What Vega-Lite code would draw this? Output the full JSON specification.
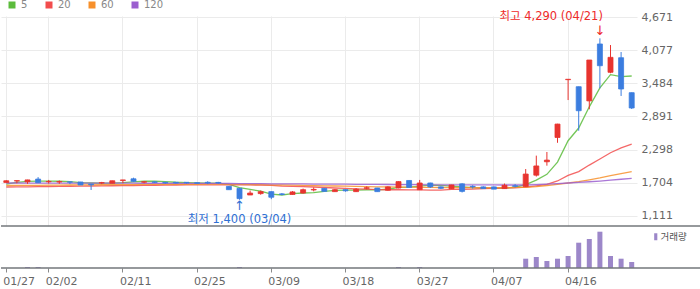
{
  "$schema": "https://vega.github.io/schema/vega-lite/v6.json",
  "padding": 0,
  "background": "#ffffff",
  "bounds": "flush",
  "spacing": 0,
  "config": {
    "view": {"stroke": null},
    "font": "DejaVu Sans",
    "axis": {"labelFont": "DejaVu Sans", "labelFontSize": 11, "labelColor": "#666666"}
  },
  "datasets": {
    "px": [
      {"d":"01/27","o":1710,"h":1748,"l":1705,"c":1740,"v":5000,"ma5":1680,"ma20":1628,"ma60":1655,"ma120":1700},
      {"d":"01/28","o":1735,"h":1745,"l":1695,"c":1742,"v":5000,"ma5":1710,"ma20":1630,"ma60":1656,"ma120":1700},
      {"d":"01/29","o":1720,"h":1758,"l":1685,"c":1755,"v":100000,"ma5":1728,"ma20":1632,"ma60":1658,"ma120":1699},
      {"d":"01/30","o":1770,"h":1805,"l":1705,"c":1705,"v":100000,"ma5":1735,"ma20":1635,"ma60":1659,"ma120":1699},
      {"d":"02/02","o":1722,"h":1755,"l":1690,"c":1728,"v":5000,"ma5":1734,"ma20":1637,"ma60":1661,"ma120":1699},
      {"d":"02/03","o":1718,"h":1745,"l":1685,"c":1725,"v":5000,"ma5":1731,"ma20":1639,"ma60":1662,"ma120":1698},
      {"d":"02/04","o":1720,"h":1722,"l":1680,"c":1715,"v":5000,"ma5":1726,"ma20":1642,"ma60":1664,"ma120":1698},
      {"d":"02/05","o":1718,"h":1720,"l":1665,"c":1665,"v":5000,"ma5":1708,"ma20":1644,"ma60":1666,"ma120":1698},
      {"d":"02/06","o":1680,"h":1682,"l":1575,"c":1668,"v":5000,"ma5":1700,"ma20":1646,"ma60":1667,"ma120":1697},
      {"d":"02/09","o":1700,"h":1720,"l":1680,"c":1706,"v":5000,"ma5":1696,"ma20":1648,"ma60":1669,"ma120":1697},
      {"d":"02/10","o":1695,"h":1742,"l":1695,"c":1740,"v":5000,"ma5":1699,"ma20":1651,"ma60":1670,"ma120":1697},
      {"d":"02/11","o":1745,"h":1755,"l":1695,"c":1755,"v":5000,"ma5":1707,"ma20":1653,"ma60":1671,"ma120":1696},
      {"d":"02/12","o":1775,"h":1795,"l":1720,"c":1730,"v":5000,"ma5":1720,"ma20":1655,"ma60":1672,"ma120":1696},
      {"d":"02/13","o":1715,"h":1730,"l":1695,"c":1722,"v":5000,"ma5":1731,"ma20":1657,"ma60":1674,"ma120":1695},
      {"d":"02/19","o":1720,"h":1725,"l":1700,"c":1712,"v":5000,"ma5":1732,"ma20":1660,"ma60":1675,"ma120":1695},
      {"d":"02/20","o":1712,"h":1714,"l":1688,"c":1700,"v":5000,"ma5":1724,"ma20":1662,"ma60":1676,"ma120":1694},
      {"d":"02/23","o":1712,"h":1715,"l":1690,"c":1700,"v":5000,"ma5":1713,"ma20":1664,"ma60":1676,"ma120":1694},
      {"d":"02/24","o":1712,"h":1715,"l":1690,"c":1702,"v":5000,"ma5":1707,"ma20":1665,"ma60":1677,"ma120":1693},
      {"d":"02/25","o":1705,"h":1706,"l":1685,"c":1695,"v":5000,"ma5":1702,"ma20":1666,"ma60":1677,"ma120":1693},
      {"d":"02/26","o":1712,"h":1730,"l":1680,"c":1700,"v":5000,"ma5":1699,"ma20":1667,"ma60":1678,"ma120":1692},
      {"d":"02/27","o":1710,"h":1720,"l":1690,"c":1700,"v":5000,"ma5":1699,"ma20":1668,"ma60":1678,"ma120":1692},
      {"d":"03/03","o":1640,"h":1645,"l":1580,"c":1580,"v":5000,"ma5":1675,"ma20":1668,"ma60":1676,"ma120":1691},
      {"d":"03/04","o":1605,"h":1610,"l":1400,"c":1420,"v":100000,"ma5":1619,"ma20":1667,"ma60":1674,"ma120":1690},
      {"d":"03/05","o":1485,"h":1565,"l":1485,"c":1520,"v":5000,"ma5":1584,"ma20":1666,"ma60":1672,"ma120":1689},
      {"d":"03/06","o":1510,"h":1565,"l":1490,"c":1545,"v":5000,"ma5":1553,"ma20":1662,"ma60":1670,"ma120":1688},
      {"d":"03/09","o":1545,"h":1550,"l":1410,"c":1445,"v":5000,"ma5":1502,"ma20":1656,"ma60":1668,"ma120":1686},
      {"d":"03/10","o":1505,"h":1520,"l":1480,"c":1495,"v":5000,"ma5":1485,"ma20":1645,"ma60":1664,"ma120":1685},
      {"d":"03/11","o":1495,"h":1555,"l":1490,"c":1540,"v":5000,"ma5":1509,"ma20":1639,"ma60":1661,"ma120":1684},
      {"d":"03/12","o":1520,"h":1600,"l":1510,"c":1580,"v":5000,"ma5":1521,"ma20":1634,"ma60":1657,"ma120":1683},
      {"d":"03/13","o":1575,"h":1620,"l":1550,"c":1585,"v":5000,"ma5":1529,"ma20":1628,"ma60":1654,"ma120":1681},
      {"d":"03/16","o":1605,"h":1607,"l":1550,"c":1550,"v":5000,"ma5":1550,"ma20":1619,"ma60":1650,"ma120":1680},
      {"d":"03/17","o":1545,"h":1590,"l":1545,"c":1580,"v":5000,"ma5":1567,"ma20":1610,"ma60":1646,"ma120":1679},
      {"d":"03/18","o":1580,"h":1585,"l":1545,"c":1560,"v":5000,"ma5":1571,"ma20":1602,"ma60":1643,"ma120":1678},
      {"d":"03/19","o":1545,"h":1610,"l":1540,"c":1590,"v":5000,"ma5":1573,"ma20":1595,"ma60":1639,"ma120":1677},
      {"d":"03/20","o":1605,"h":1640,"l":1585,"c":1615,"v":5000,"ma5":1579,"ma20":1590,"ma60":1636,"ma120":1676},
      {"d":"03/23","o":1610,"h":1612,"l":1545,"c":1545,"v":5000,"ma5":1578,"ma20":1582,"ma60":1632,"ma120":1674},
      {"d":"03/24","o":1570,"h":1640,"l":1565,"c":1630,"v":5000,"ma5":1588,"ma20":1579,"ma60":1630,"ma120":1673},
      {"d":"03/25","o":1610,"h":1730,"l":1605,"c":1725,"v":100000,"ma5":1621,"ma20":1580,"ma60":1627,"ma120":1672},
      {"d":"03/26","o":1745,"h":1747,"l":1620,"c":1620,"v":5000,"ma5":1627,"ma20":1576,"ma60":1625,"ma120":1671},
      {"d":"03/27","o":1580,"h":1755,"l":1575,"c":1700,"v":100000,"ma5":1644,"ma20":1576,"ma60":1622,"ma120":1670},
      {"d":"03/30","o":1700,"h":1705,"l":1610,"c":1630,"v":5000,"ma5":1661,"ma20":1573,"ma60":1620,"ma120":1668},
      {"d":"03/31","o":1630,"h":1640,"l":1590,"c":1605,"v":5000,"ma5":1656,"ma20":1574,"ma60":1619,"ma120":1667},
      {"d":"04/01","o":1595,"h":1667,"l":1595,"c":1665,"v":5000,"ma5":1644,"ma20":1586,"ma60":1618,"ma120":1667},
      {"d":"04/02","o":1685,"h":1695,"l":1530,"c":1550,"v":5000,"ma5":1630,"ma20":1588,"ma60":1617,"ma120":1666},
      {"d":"04/03","o":1640,"h":1660,"l":1600,"c":1630,"v":5000,"ma5":1616,"ma20":1592,"ma60":1616,"ma120":1666},
      {"d":"04/06","o":1630,"h":1640,"l":1600,"c":1600,"v":5000,"ma5":1610,"ma20":1600,"ma60":1615,"ma120":1665},
      {"d":"04/07","o":1630,"h":1635,"l":1590,"c":1590,"v":5000,"ma5":1607,"ma20":1605,"ma60":1617,"ma120":1665},
      {"d":"04/08","o":1600,"h":1690,"l":1600,"c":1660,"v":5000,"ma5":1606,"ma20":1611,"ma60":1618,"ma120":1664},
      {"d":"04/09","o":1650,"h":1680,"l":1620,"c":1640,"v":5000,"ma5":1624,"ma20":1614,"ma60":1620,"ma120":1664},
      {"d":"04/10","o":1635,"h":1950,"l":1630,"c":1860,"v":930000,"ma5":1670,"ma20":1627,"ma60":1622,"ma120":1664},
      {"d":"04/13","o":1840,"h":2190,"l":1815,"c":2005,"v":1100000,"ma5":1751,"ma20":1650,"ma60":1635,"ma120":1670},
      {"d":"04/14","o":2080,"h":2255,"l":2010,"c":2110,"v":700000,"ma5":1855,"ma20":1677,"ma60":1655,"ma120":1678},
      {"d":"04/15","o":2515,"h":2760,"l":2420,"c":2755,"v":930000,"ma5":2074,"ma20":1736,"ma60":1677,"ma120":1690},
      {"d":"04/16","o":3550,"h":3560,"l":3185,"c":3557,"v":1200000,"ma5":2457,"ma20":1835,"ma60":1700,"ma120":1700},
      {"d":"04/17","o":3424,"h":3426,"l":2636,"c":2994,"v":2530000,"ma5":2684,"ma20":1904,"ma60":1725,"ma120":1710},
      {"d":"04/20","o":3170,"h":3902,"l":3020,"c":3902,"v":2900000,"ma5":3064,"ma20":2021,"ma60":1757,"ma120":1722},
      {"d":"04/21","o":4189,"h":4290,"l":3395,"c":3800,"v":3630000,"ma5":3402,"ma20":2130,"ma60":1790,"ma120":1735},
      {"d":"04/22","o":3682,"h":4170,"l":3665,"c":3950,"v":1200000,"ma5":3641,"ma20":2241,"ma60":1830,"ma120":1750},
      {"d":"04/23","o":3943,"h":4045,"l":3258,"c":3383,"v":930000,"ma5":3606,"ma20":2329,"ma60":1866,"ma120":1767},
      {"d":"04/24","o":3317,"h":3320,"l":3025,"c":3043,"v":600000,"ma5":3616,"ma20":2396,"ma60":1902,"ma120":1784}
    ]
  },
  "resolve": {"scale": {"color": "independent"}, "legend": {"color": "independent"}},
  "vconcat": [
    {
      "width": 636,
      "height": 210,
      "data": {"name": "px"},
      "encoding": {
        "x": {
          "field": "d", "type": "ordinal", "sort": null,
          "scale": {"type": "band", "paddingInner": 0, "paddingOuter": 0},
          "axis": {
            "values": ["01/27","02/02","02/11","02/25","03/09","03/18","03/27","04/07","04/16"],
            "labels": false, "ticks": false, "domain": false, "grid": true,
            "gridColor": "#ebebeb", "bandPosition": 0.5, "title": null
          }
        }
      },
      "layer": [
        {
          "transform": [{"fold": ["ma5","ma20","ma60","ma120"], "as": ["key","val"]}],
          "mark": {"type": "line"},
          "encoding": {
            "y": {
              "field": "val", "type": "quantitative",
              "scale": {"domain": [930, 4690], "nice": false, "zero": false},
              "axis": {
                "orient": "right", "title": null,
                "values": [1111,1704,2298,2891,3484,4077,4671], "tickCount": 20, "format": ",.0f",
                "ticks": false, "tickSize": 0, "domain": false, "labelPadding": 4,
                "labelOverlap": false, "labelFlush": false,
                "grid": true, "gridColor": "#ebebeb"
              }
            },
            "color": {
              "field": "key", "type": "nominal",
              "scale": {"domain": ["ma5","ma20","ma60","ma120"], "range": ["#5cbc3c","#f24d4d","#f7902b","#9b5fcf"]},
              "legend": {
                "orient": "none", "legendX": 6, "legendY": -16, "direction": "horizontal",
                "title": null, "symbolType": "square", "symbolSize": 4, "symbolStrokeWidth": 5,
                "symbolOpacity": 1, "labelFont": "DejaVu Sans", "labelFontSize": 10,
                "labelColor": "#888888", "labelOffset": 4, "columnPadding": 10, "padding": 0,
                "labelExpr": "replace(datum.label, 'ma', '')"
              }
            },
            "strokeWidth": {"value": 1.3},
            "opacity": {"value": 0.85}
          }
        },
        {
          "mark": {"type": "rule", "strokeWidth": 1},
          "encoding": {
            "y": {"field": "l", "type": "quantitative"},
            "y2": {"field": "h"},
            "color": {"condition": {"test": "datum.c >= datum.o", "value": "#e8342f"}, "value": "#3b7ddf"}
          }
        },
        {
          "mark": {"type": "bar", "size": 5, "strokeWidth": 0.8},
          "encoding": {
            "y": {"field": "o", "type": "quantitative"},
            "y2": {"field": "c"},
            "fill": {"condition": {"test": "datum.c >= datum.o", "value": "#e8342f"}, "value": "#3b7ddf"},
            "stroke": {"condition": {"test": "datum.c >= datum.o", "value": "#e8342f"}, "value": "#3b7ddf"}
          }
        },
        {
          "transform": [{"filter": "datum.d == '04/21'"}],
          "mark": {"type": "text", "align": "right", "baseline": "middle", "dx": 3, "dy": -21, "fontSize": 11.5, "font": "DejaVu Sans, Noto Sans CJK KR", "color": "#ee2a2a"},
          "encoding": {"y": {"field": "h", "type": "quantitative"}, "text": {"value": "최고 4,290 (04/21)"}}
        },
        {
          "transform": [{"filter": "datum.d == '04/21'"}],
          "mark": {"type": "text", "align": "center", "baseline": "middle", "dy": -7, "fontSize": 13, "font": "DejaVu Sans", "color": "#ee2a2a"},
          "encoding": {"y": {"field": "h", "type": "quantitative"}, "text": {"value": "↓"}}
        },
        {
          "transform": [{"filter": "datum.d == '03/04'"}],
          "mark": {"type": "text", "align": "center", "baseline": "middle", "dy": 20, "fontSize": 11.5, "font": "DejaVu Sans, Noto Sans CJK KR", "color": "#2f6fd3"},
          "encoding": {"y": {"field": "l", "type": "quantitative"}, "text": {"value": "최저 1,400 (03/04)"}}
        },
        {
          "transform": [{"filter": "datum.d == '03/04'"}],
          "mark": {"type": "text", "align": "center", "baseline": "middle", "dy": 6, "fontSize": 13, "font": "DejaVu Sans", "color": "#2f6fd3"},
          "encoding": {"y": {"field": "l", "type": "quantitative"}, "text": {"value": "↑"}}
        }
      ]
    },
    {
      "width": 700,
      "height": 42,
      "layer": [
        {
          "data": {"name": "px"},
          "mark": {"type": "bar", "size": 5},
          "encoding": {
            "x": {
              "field": "d", "type": "ordinal", "sort": null,
              "scale": {"type": "band", "paddingInner": 0, "paddingOuter": 0, "range": [0, 636]},
              "axis": {
                "values": ["01/27","02/02","02/11","02/25","03/09","03/18","03/27","04/07","04/16"],
                "title": null, "labelAngle": 0, "labelAlign": "left", "labelBaseline": "top", "labelOffset": -3,
                "ticks": true, "tickSize": 4,
                "tickColor": "#8a8a8a", "domain": false, "grid": false, "labelPadding": 3,
                "bandPosition": 0.5, "labelOverlap": false, "labelFlush": false, "labelColor": "#666666"
              }
            },
            "y": {"field": "v", "type": "quantitative", "scale": {"domain": [0, 4200000], "nice": false}, "axis": null},
            "color": {
              "datum": "거래량",
              "scale": {"domain": ["거래량"], "range": ["#9c87c9"]},
              "legend": {
                "orient": "none", "legendX": 650, "legendY": 6, "title": null,
                "symbolType": "M-0.45,-1H0.45V1H-0.45Z", "symbolSize": 49, "symbolStrokeWidth": 0,
                "labelFont": "Noto Sans CJK KR", "labelFontSize": 9.5, "labelColor": "#555555",
                "labelOffset": 0, "padding": 0
              }
            }
          }
        },
        {
          "data": {"values": [{}]},
          "mark": {"type": "rule", "color": "#73777b", "strokeWidth": 1.5},
          "encoding": {"y": {"datum": 0}}
        },
        {
          "data": {"values": [{}]},
          "mark": {"type": "rule", "color": "#73777b", "strokeWidth": 1.5},
          "encoding": {"y": {"datum": 4200000}}
        }
      ]
    }
  ]
}
